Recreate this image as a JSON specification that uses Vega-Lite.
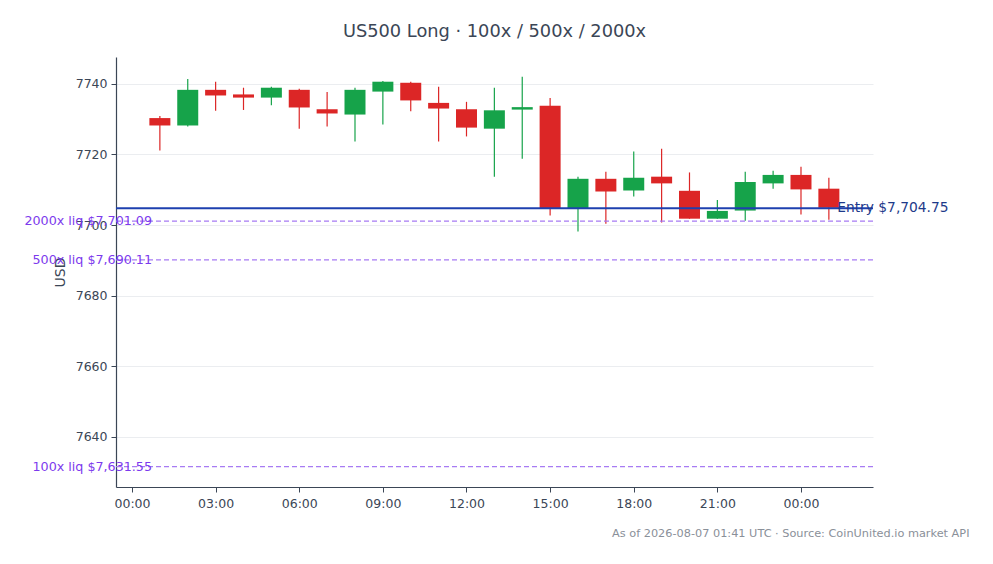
{
  "$schema": "https://vega.github.io/schema/vega-lite/v6.json",
  "width": 757,
  "height": 430,
  "autosize": {"type": "none"},
  "padding": {"left": 116, "top": 57, "right": 120, "bottom": 77},
  "background": "white",
  "title": {
    "text": "US500 Long · 100x / 500x / 2000x",
    "font": "DejaVu Sans",
    "fontSize": 17.8,
    "fontWeight": "normal",
    "color": "#3b4656",
    "anchor": "middle",
    "offset": 16
  },
  "config": {
    "view": {"stroke": null},
    "font": "DejaVu Sans",
    "axis": {
      "labelFont": "DejaVu Sans",
      "titleFont": "DejaVu Sans",
      "labelFontSize": 12.5,
      "labelColor": "#3b4656",
      "domainColor": "#3b4656",
      "tickColor": "#3b4656",
      "tickSize": 5,
      "domainWidth": 1.2
    }
  },
  "datasets": {
    "candles": [
      {"ts": "2026-08-06T01:00:00Z", "open": 7730.3, "high": 7730.9, "low": 7721.1, "close": 7728.2},
      {"ts": "2026-08-06T02:00:00Z", "open": 7728.2, "high": 7741.4, "low": 7727.9, "close": 7738.3},
      {"ts": "2026-08-06T03:00:00Z", "open": 7738.3, "high": 7740.6, "low": 7732.4, "close": 7736.7},
      {"ts": "2026-08-06T04:00:00Z", "open": 7737.0, "high": 7738.9, "low": 7732.6, "close": 7736.1},
      {"ts": "2026-08-06T05:00:00Z", "open": 7736.1, "high": 7739.2, "low": 7733.9, "close": 7738.9},
      {"ts": "2026-08-06T06:00:00Z", "open": 7738.3, "high": 7738.6, "low": 7727.3, "close": 7733.3},
      {"ts": "2026-08-06T07:00:00Z", "open": 7732.8, "high": 7737.7, "low": 7727.9, "close": 7731.6},
      {"ts": "2026-08-06T08:00:00Z", "open": 7731.3, "high": 7738.9, "low": 7723.7, "close": 7738.3},
      {"ts": "2026-08-06T09:00:00Z", "open": 7737.8, "high": 7740.8, "low": 7728.5, "close": 7740.6},
      {"ts": "2026-08-06T10:00:00Z", "open": 7740.3, "high": 7740.6, "low": 7732.2, "close": 7735.3},
      {"ts": "2026-08-06T11:00:00Z", "open": 7734.6, "high": 7739.2, "low": 7723.7, "close": 7733.0},
      {"ts": "2026-08-06T12:00:00Z", "open": 7732.8, "high": 7734.9, "low": 7725.1, "close": 7727.6},
      {"ts": "2026-08-06T13:00:00Z", "open": 7727.3, "high": 7738.9, "low": 7713.7, "close": 7732.5},
      {"ts": "2026-08-06T14:00:00Z", "open": 7732.7, "high": 7742.0, "low": 7718.8, "close": 7733.4},
      {"ts": "2026-08-06T15:00:00Z", "open": 7733.8, "high": 7736.0, "low": 7702.7, "close": 7704.8},
      {"ts": "2026-08-06T16:00:00Z", "open": 7704.8, "high": 7713.7, "low": 7698.2, "close": 7713.1},
      {"ts": "2026-08-06T17:00:00Z", "open": 7713.1, "high": 7715.1, "low": 7700.4, "close": 7709.5},
      {"ts": "2026-08-06T18:00:00Z", "open": 7709.8, "high": 7720.8, "low": 7708.1, "close": 7713.4},
      {"ts": "2026-08-06T19:00:00Z", "open": 7713.7, "high": 7721.6, "low": 7700.7, "close": 7711.8},
      {"ts": "2026-08-06T20:00:00Z", "open": 7709.7, "high": 7714.9, "low": 7701.8, "close": 7701.8},
      {"ts": "2026-08-06T21:00:00Z", "open": 7701.8, "high": 7707.1, "low": 7701.8, "close": 7704.0},
      {"ts": "2026-08-06T22:00:00Z", "open": 7704.1, "high": 7715.1, "low": 7701.2, "close": 7712.2},
      {"ts": "2026-08-06T23:00:00Z", "open": 7711.8, "high": 7715.4, "low": 7710.3, "close": 7714.2},
      {"ts": "2026-08-07T00:00:00Z", "open": 7714.2, "high": 7716.5, "low": 7703.0, "close": 7710.1},
      {"ts": "2026-08-07T01:00:00Z", "open": 7710.3, "high": 7713.4, "low": 7701.5, "close": 7704.9}
    ],
    "liqs": [
      {"price": 7701.09, "label": "2000x liq $7,701.09"},
      {"price": 7690.11, "label": "500x liq $7,690.11"},
      {"price": 7631.55, "label": "100x liq $7,631.55"}
    ],
    "entry": [
      {"price": 7704.75, "label": "Entry $7,704.75"}
    ]
  },
  "layer": [
    {
      "data": {"name": "candles"},
      "mark": {"type": "rule", "strokeWidth": 1.2},
      "encoding": {
        "x": {
          "field": "ts", "type": "temporal",
          "scale": {
            "type": "utc",
            "nice": false,
            "padding": 0,
            "domain": [1785972334000, 1786070100000]
          },
          "axis": {
            "format": "%H:%M",
            "values": [1785974400000, 1785985200000, 1785996000000, 1786006800000, 1786017600000, 1786028400000, 1786039200000, 1786050000000, 1786060800000],
            "grid": false,
            "labelPadding": 5,
            "title": "As of 2026-08-07 01:41 UTC · Source: CoinUnited.io market API",
            "titleFontSize": 11.3,
            "titleFontWeight": "normal",
            "titleColor": "#8a9099",
            "titleAnchor": "end",
            "titleAlign": "right",
            "titleBaseline": "middle",
            "titleX": 853,
            "titleY": 46
          }
        },
        "y": {
          "field": "low", "type": "quantitative",
          "scale": {"domain": [7625.8, 7747.6], "nice": false, "zero": false},
          "axis": {
            "values": [7640, 7660, 7680, 7700, 7720, 7740],
            "format": "d",
            "grid": true,
            "gridColor": "#ebedf0",
            "title": "USD",
            "titleFontSize": 14,
            "titleFontWeight": "normal",
            "titleColor": "#3b4656",
            "titlePadding": 8,
            "labelPadding": 4
          }
        },
        "y2": {"field": "high"},
        "color": {
          "condition": {"test": "datum.close >= datum.open", "value": "#16a34a"},
          "value": "#dc2626"
        }
      }
    },
    {
      "data": {"name": "candles"},
      "mark": {"type": "bar", "size": 21},
      "encoding": {
        "x": {"field": "ts", "type": "temporal"},
        "y": {"field": "open", "type": "quantitative"},
        "y2": {"field": "close"},
        "color": {
          "condition": {"test": "datum.close >= datum.open", "value": "#16a34a"},
          "value": "#dc2626"
        }
      }
    },
    {
      "data": {"name": "liqs"},
      "mark": {"type": "rule", "color": "#a77bf3", "strokeWidth": 1.3, "strokeDash": [5, 3]},
      "encoding": {
        "y": {"field": "price", "type": "quantitative"}
      }
    },
    {
      "data": {"name": "liqs"},
      "mark": {"type": "text", "align": "right", "baseline": "middle", "color": "#7c3aed", "fontSize": 12.7, "font": "DejaVu Sans"},
      "encoding": {
        "x": {"datum": 1785976980000, "type": "temporal"},
        "y": {"field": "price", "type": "quantitative"},
        "text": {"field": "label"}
      }
    },
    {
      "data": {"name": "entry"},
      "mark": {"type": "rule", "color": "#1e40af", "strokeWidth": 2},
      "encoding": {
        "y": {"field": "price", "type": "quantitative"}
      }
    },
    {
      "data": {"name": "entry"},
      "mark": {"type": "text", "align": "left", "baseline": "middle", "color": "#1e3a8a", "fontSize": 13.8, "font": "DejaVu Sans"},
      "encoding": {
        "x": {"datum": 1786065480000, "type": "temporal"},
        "y": {"field": "price", "type": "quantitative"},
        "text": {"field": "label"}
      }
    }
  ]
}
